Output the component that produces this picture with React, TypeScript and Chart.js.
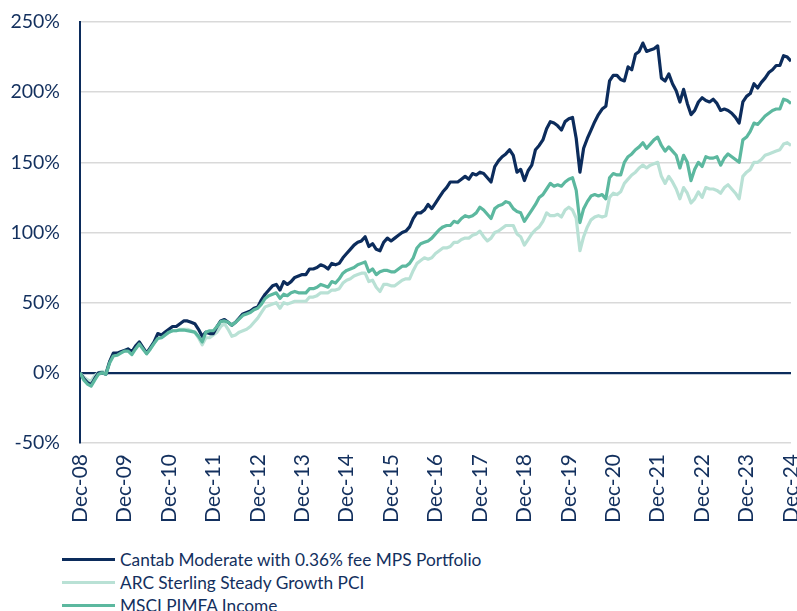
import React, { useEffect, useRef } from "react";
import { Chart, registerables } from "chart.js";

Chart.register(...registerables);

const NAVY = "#0c2c5c";
const TEAL = "#5cb89f";
const LIGHT = "#b9e1d5";
const TEXT = "#13305e";
const GRID = "#d9d9d9";

const yearLabels = [
  "Dec-08", "Dec-09", "Dec-10", "Dec-11", "Dec-12", "Dec-13", "Dec-14", "Dec-15", "Dec-16",
  "Dec-17", "Dec-18", "Dec-19", "Dec-20", "Dec-21", "Dec-22", "Dec-23", "Dec-24",
];

const seriesNames = [
  "Cantab Moderate with 0.36% fee MPS Portfolio",
  "ARC Sterling Steady Growth PCI",
  "MSCI PIMFA Income",
];

// Monthly cumulative returns (%), Dec-08 .. Dec-24
const cantab = [
  0, -4, -7, -8.5, -4, 0, 0, -1, 8, 14, 14, 15, 16,
  17, 15, 19, 22, 18, 14, 18, 22, 28, 27, 29, 31,
  33, 33, 35, 37, 37, 36, 35, 31, 26, 29, 28, 28,
  33, 37, 38, 36, 34, 36, 39, 42, 43, 44, 46, 47,
  52, 56, 59, 62, 63, 59, 65, 63, 65, 68, 69, 70,
  70, 74, 74, 75, 77, 76, 74, 78, 77, 78, 82, 85,
  88, 91, 93, 94, 97, 90, 92, 88, 87, 93, 96, 94,
  96, 98, 100, 101, 104, 110, 114, 114, 116, 120, 117, 121,
  125, 129, 132, 136, 136, 136, 138, 140, 138, 142, 141, 143,
  142, 139, 136, 147, 151, 154, 156, 159, 155, 143, 145, 137,
  144, 148, 159, 162, 166, 174, 179, 178, 176, 173, 179, 181,
  182, 167, 143, 160, 167, 173, 179, 184, 188, 190, 208, 212,
  212, 209, 208, 218, 216, 227, 229, 235, 229, 230, 231, 233,
  210, 208, 213, 206, 201, 193, 202, 192, 184, 187, 193, 196,
  194, 193, 195, 192, 187, 188, 187, 185, 182, 178, 193, 197,
  199, 206, 203, 207, 210, 214, 216, 219, 219, 226, 225, 222,
];

const arc = [
  0, -3, -5, -6, -2, 0, 1, 0, 8, 13, 13, 14.5, 16,
  17, 15, 19, 22, 18, 14, 17, 21, 25, 25, 27, 29,
  30, 30, 31, 31, 31, 30, 29, 25, 20, 25, 25, 27,
  29, 33, 35, 31, 26, 27, 29, 30, 31, 33, 36, 39,
  43, 47, 48, 49, 50, 46, 50, 49, 50, 51, 51, 51,
  51, 54, 54, 55, 57, 57, 57, 59, 59, 60, 64, 66,
  67, 69, 70, 71, 71, 65, 66, 61, 58, 63, 63, 62,
  62, 64, 66, 67, 67, 73, 78, 80, 82, 81, 82, 85,
  87, 89, 89, 90, 93, 93, 95, 96, 96, 98, 99, 101,
  97, 94, 96, 100, 101, 103, 105, 105, 105, 99, 97, 91,
  95, 99, 102, 104, 108, 114, 112, 112, 113, 111, 116, 118,
  116, 110, 87, 97, 104, 109, 111, 112, 111, 112, 125, 128,
  127, 129, 135, 138, 141, 143, 146, 148, 146, 148, 149, 150,
  140, 135, 140, 136, 131, 124, 132, 128, 121, 124, 129, 125,
  132, 131, 131, 130, 128, 132, 134, 131, 128, 124, 140, 143,
  145, 150, 150, 152, 155, 156, 157, 158, 159, 163, 164, 162,
];

const msci = [
  0, -5, -8, -9.5, -5, -1, 0, -1, 7, 12, 12.5, 14, 15.5,
  15.5, 13, 17, 20.5, 17, 13.5, 17, 21, 24.5, 25, 27, 29,
  30, 30, 30.5, 30.5, 30, 29.5, 29, 26, 22, 29, 30, 30,
  33, 36.5, 37, 36, 34, 36, 38.5, 41, 42, 43, 45, 46,
  49, 53, 55, 56, 57, 53, 56, 55, 57, 58, 57, 57,
  57, 60, 60, 61, 63, 62, 61, 65, 64, 67, 71, 73,
  74, 75, 77, 78, 79, 72, 74, 70, 72, 73, 73, 72,
  72, 74, 76, 76, 78, 82, 89, 92, 93, 94, 96, 99,
  102, 104, 105, 105, 108, 107, 110, 112, 111, 112, 114, 118,
  116, 113, 110, 117, 119, 120, 122, 121, 117, 115, 114, 108,
  112, 116, 120, 125, 127, 131, 135, 133, 134, 133, 136, 138,
  139, 130, 107, 117, 122, 126, 127, 126, 127, 124, 139, 142,
  141, 141, 150, 154, 156, 159, 161, 164, 160, 163, 166, 168,
  162, 158, 161, 158, 155, 146, 155, 150, 137, 145, 150, 147,
  154, 153, 153, 154, 148, 153, 156, 154, 152, 150, 166, 168,
  172, 178, 177, 180, 183, 185, 187, 188, 188, 195, 194, 192,
];

const seriesColors = [NAVY, LIGHT, TEAL];

export default function App() {
  const ref = useRef<HTMLCanvasElement>(null);

  useEffect(() => {
    if (!ref.current) return;
    const toPts = (arr: number[]) => arr.map((y, i) => ({ x: i, y }));
    const chart = new Chart(ref.current, {
      type: "line",
      data: {
        datasets: [
          {
            label: seriesNames[0],
            data: toPts(cantab),
            borderColor: NAVY,
            borderWidth: 3.2,
            pointRadius: 0,
            tension: 0,
            borderJoinStyle: "round",
            order: 1,
          },
          {
            label: seriesNames[1],
            data: toPts(arc),
            borderColor: LIGHT,
            borderWidth: 3.2,
            pointRadius: 0,
            tension: 0,
            borderJoinStyle: "round",
            order: 2,
          },
          {
            label: seriesNames[2],
            data: toPts(msci),
            borderColor: TEAL,
            borderWidth: 3.2,
            pointRadius: 0,
            tension: 0,
            borderJoinStyle: "round",
            order: 0,
          },
        ],
      },
      options: {
        responsive: false,
        animation: false,
        events: [],
        layout: { padding: { top: 22, right: 6, left: 0, bottom: 0 } },
        plugins: { legend: { display: false }, tooltip: { enabled: false } },
        scales: {
          x: {
            type: "linear",
            min: 0,
            max: 192,
            grid: { display: false, drawTicks: false },
            border: { display: false },
            ticks: {
              stepSize: 12,
              autoSkip: false,
              maxRotation: 90,
              minRotation: 90,
              padding: 11,
              color: TEXT,
              font: { family: "Lato", size: 21 },
              callback: (v: any) => yearLabels[Math.round(Number(v) / 12)] ?? "",
            },
            afterFit: (s: any) => {
              s.height = 97;
              s.paddingLeft = 0;
              s.paddingRight = 0;
            },
          },
          y: {
            min: -50,
            max: 250,
            grid: {
              drawTicks: false,
              color: (ctx: any) => (ctx.tick && ctx.tick.value === 0 ? NAVY : GRID),
              lineWidth: (ctx: any) => (ctx.tick && ctx.tick.value === 0 ? 2.2 : 1.6),
            },
            border: { display: true, color: NAVY, width: 2 },
            ticks: {
              stepSize: 50,
              padding: 20,
              color: TEXT,
              font: { family: "Lato", size: 19.5 },
              callback: (v: any) => v + "%",
            },
            afterFit: (s: any) => {
              s.width = 80;
              s.paddingTop = 0;
              s.paddingBottom = 0;
            },
          },
        },
      },
    });
    return () => chart.destroy();
  }, []);

  return (
    <div style={{ position: "absolute", left: 0, top: 0, width: 797, height: 611, background: "#fff" }}>
      <canvas ref={ref} width={797} height={540} style={{ display: "block" }} />
      <div style={{ position: "absolute", left: 62, top: 548, fontFamily: "Lato", fontSize: 17.3, color: TEXT }}>
        {seriesNames.map((name, i) => (
          <div key={name} style={{ display: "flex", alignItems: "center", height: 23 }}>
            <div style={{ width: 53, height: 3.5, background: seriesColors[i], marginRight: 5 }} />
            <span style={{ lineHeight: "23px", whiteSpace: "nowrap" }}>{name}</span>
          </div>
        ))}
      </div>
    </div>
  );
}
